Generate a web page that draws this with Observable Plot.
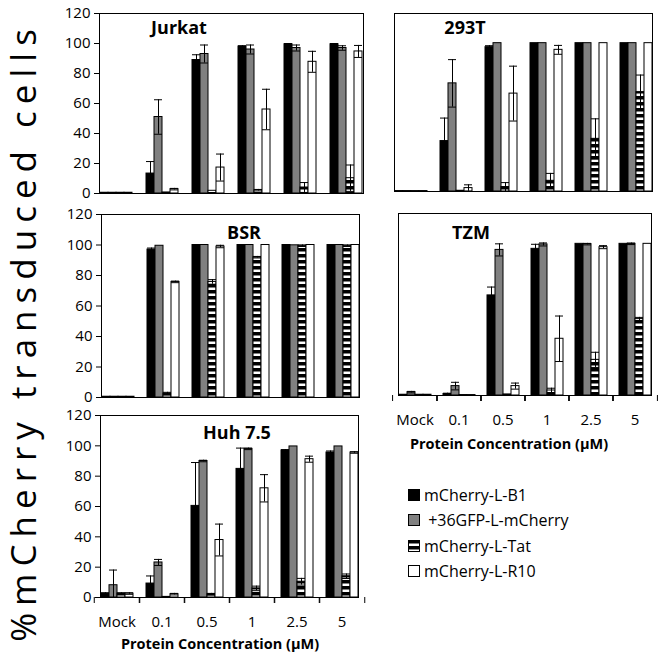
<!DOCTYPE html>
<html>
<head>
<meta charset="utf-8">
<script src="https://cdn.jsdelivr.net/npm/d3@7"></script>
<script src="https://cdn.jsdelivr.net/npm/@observablehq/plot@0.6"></script>
<style>
  body { margin: 0; background: #fff; font-family: "Open Sans", sans-serif; }
  #root { position: relative; width: 667px; height: 657px; overflow: hidden; background: #fff; }
  .panel { position: absolute; }
  .panel svg { overflow: visible; }
  .ptitle { position: absolute; font-weight: bold; font-size: 18px; transform: translate(-50%, -50%); white-space: nowrap; color: #000; }
  .xtitle { position: absolute; font-weight: bold; font-size: 14.5px; transform: translate(-50%, -50%); white-space: nowrap; color: #000; }
  .ytitle { position: absolute; font-size: 35px; letter-spacing: 7px; white-space: nowrap; transform: translate(-50%, -50%) rotate(-90deg); color: #000; }
  .legend { position: absolute; left: 408px; top: 482px; font-size: 16px; color: #000; }
  .legend .row { display: flex; align-items: center; height: 25.5px; white-space: pre; }
</style>
</head>
<body>
<svg width="0" height="0" style="position:absolute">
  <defs>
    <pattern id="tatStripes" patternUnits="userSpaceOnUse" width="6" height="6">
      <rect width="6" height="6" fill="#fff"></rect>
      <rect width="6" height="3.5" fill="#000"></rect>
    </pattern>
  </defs>
</svg>
<div id="root"></div>
<script>
// ---- categories & labels ----
const concentrations = ["Mock", "0.1", "0.5", "1", "2.5", "5"];
const series = ["mCherry-L-B1", "+36GFP-L-mCherry", "mCherry-L-Tat", "mCherry-L-R10"];
const seriesFills = ["#000000", "#808080", "url(#tatStripes)", "#ffffff"];
const yTicks = [0, 20, 40, 60, 80, 100, 120];
const xTitle = "Protein Concentration (μM)";
const yTitle = "%mCherry transduced cells";

// ---- values: rows = series (B1, +36GFP, Tat, R10), columns = concentrations ----
const jurkatValues = [
  [0.5, 13.3, 89, 98, 99.5, 99.5],
  [0.5, 51, 93, 96, 97, 97],
  [0.5, 0.7, 1.8, 2.2, 4, 10.2],
  [0.5, 2.9, 17.3, 56, 87.8, 94.7]
];
const jurkatErrors = [
  [0, 8, 3.5, 0.5, 0.5, 0.5],
  [0, 11.5, 6, 3, 2, 1.5],
  [0, 0, 0, 0.5, 3.3, 8.8],
  [0, 0.5, 9, 13.5, 7, 4]
];
const t293Values = [
  [0.3, 34, 97.3, 100, 100, 100],
  [0.3, 72.9, 100, 100, 100, 100],
  [0.3, 0.5, 3, 7.2, 35.5, 67],
  [0.3, 2.3, 66, 95.5, 100, 100]
];
const t293Errors = [
  [0, 15.5, 1, 0, 0, 0],
  [0, 16, 0, 0, 0, 0],
  [0, 0, 3, 5, 13.5, 11.5],
  [0, 2.2, 18.5, 3, 0, 0]
];
const bsrValues = [
  [0.5, 97, 100, 100, 100, 100],
  [0.5, 99.5, 100, 100, 99.8, 100],
  [0.5, 2.6, 75.8, 92, 99.5, 99.5],
  [0.5, 75.8, 99, 100, 100, 100]
];
const bsrErrors = [
  [0, 1, 0, 0, 0, 0],
  [0, 0, 0, 0, 0, 0],
  [0, 0.8, 1.5, 0.5, 0.5, 0.5],
  [0, 0.5, 0.8, 0, 0, 0]
];
const tzmValues = [
  [0.5, 1, 66, 96.7, 100, 100],
  [2.2, 6.2, 96, 99.6, 99.8, 100],
  [0.5, 0.3, 0.7, 3.3, 23.5, 50.5],
  [0.5, 0.3, 6.2, 37.4, 97.8, 100]
];
const tzmErrors = [
  [0, 0.5, 5.5, 3, 0, 0],
  [0.5, 2.5, 4, 1, 0.5, 0.5],
  [0, 0, 0, 1.5, 5, 1],
  [0, 0, 2, 15, 1, 0]
];
const huhValues = [
  [2.6, 9.2, 60.4, 84.8, 97, 95.6],
  [8.1, 23.1, 90, 98, 99.6, 99.6],
  [2.6, 0.4, 2.2, 6, 10.4, 14],
  [2.6, 2.2, 37.9, 72, 91.2, 95.6]
];
const huhErrors = [
  [0.5, 5, 28.6, 13.7, 0.5, 1],
  [10, 2, 0.5, 0.5, 0, 0],
  [0.5, 0, 0.5, 1.5, 2.2, 1.5],
  [0.5, 0.5, 10.5, 9, 2, 0.5]
];

// ---- build ----
const root = document.getElementById("root");

function tidy(values, errors) {
  const rows = [];
  series.forEach((s, i) => concentrations.forEach((c, j) => {
    rows.push({series: s, conc: c, value: values[i][j], err: errors[i][j]});
  }));
  return rows;
}

function addPanel(cfg) {
  const data = tidy(cfg.values, cfg.errors);
  const withErr = data.filter(d => d.err > 0);
  const plotW = cfg.width - cfg.marginLeft - cfg.marginRight;
  const step = plotW / concentrations.length;
  const marks = [
    Plot.barY(data, {fx: "conc", x: "series", y: "value", fill: "series", stroke: "#000", strokeWidth: 1}),
    Plot.ruleX(withErr, {fx: "conc", x: "series", y1: d => Math.max(0, d.value - d.err), y2: d => d.value + d.err, stroke: "#000", strokeWidth: 1}),
    Plot.tickY(withErr, {fx: "conc", x: "series", y: d => d.value + d.err, stroke: "#000", strokeWidth: 1}),
    Plot.tickY(withErr.filter(d => d.value - d.err > 0), {fx: "conc", x: "series", y: d => d.value - d.err, stroke: "#000", strokeWidth: 1}),
    Plot.frame({facet: "super", stroke: "#000", strokeWidth: 1})
  ];
  if (cfg.yAxis) {
    marks.push(Plot.axisY({ticks: yTicks, tickSize: 5, tickPadding: 4, fontSize: 15, label: null, stroke: "#000"}));
  }
  if (cfg.xAxis) {
    marks.push(Plot.axisFx({anchor: "bottom", tickSize: 0, tickPadding: 19, fontSize: 15, label: null}));
    marks.push(Plot.axisFx({anchor: "bottom", tickSize: 6, tickFormat: () => "", label: null, dx: -step / 2}));
    marks.push(Plot.axisFx({anchor: "bottom", tickSize: 6, tickFormat: () => "", label: null, dx: step / 2}));
  }
  const chart = Plot.plot({
    width: cfg.width,
    height: cfg.height,
    marginLeft: cfg.marginLeft,
    marginRight: cfg.marginRight,
    marginTop: cfg.marginTop,
    marginBottom: cfg.marginBottom,
    style: {fontFamily: "Open Sans", color: "#000", background: "transparent", overflow: "visible"},
    fx: {domain: concentrations, paddingInner: 0.26, paddingOuter: 0.13, axis: cfg.xAxis ? undefined : null, label: null},
    x: {domain: series, padding: 0, axis: null},
    y: {domain: [0, 120], axis: cfg.yAxis ? undefined : null, label: null},
    color: {domain: series, range: seriesFills},
    marks
  });
  const holder = document.createElement("div");
  holder.className = "panel";
  holder.style.left = cfg.left + "px";
  holder.style.top = cfg.top + "px";
  holder.appendChild(chart);
  root.appendChild(holder);

  const t = document.createElement("div");
  t.className = "ptitle";
  t.textContent = cfg.title;
  t.style.left = cfg.titleX + "px";
  t.style.top = cfg.titleY + "px";
  root.appendChild(t);

  if (cfg.xAxis) {
    const xt = document.createElement("div");
    xt.className = "xtitle";
    xt.textContent = xTitle;
    xt.style.left = cfg.xTitleX + "px";
    xt.style.top = cfg.xTitleY + "px";
    root.appendChild(xt);
  }
}

addPanel({title: "Jurkat", values: jurkatValues, errors: jurkatErrors, left: 40, top: 0, width: 335, height: 198,
  marginLeft: 53, marginRight: 5, marginTop: 13, marginBottom: 5, yAxis: true, xAxis: false, titleX: 179, titleY: 27});
addPanel({title: "293T", values: t293Values, errors: t293Errors, left: 380, top: 0, width: 284, height: 196,
  marginLeft: 7, marginRight: 5, marginTop: 13, marginBottom: 5, yAxis: false, xAxis: false, titleX: 465, titleY: 27});
addPanel({title: "BSR", values: bsrValues, errors: bsrErrors, left: 40, top: 200, width: 333, height: 202,
  marginLeft: 53, marginRight: 5, marginTop: 14, marginBottom: 5, yAxis: true, xAxis: false, titleX: 244, titleY: 232});
addPanel({title: "TZM", values: tzmValues, errors: tzmErrors, left: 380, top: 200, width: 284, height: 230,
  marginLeft: 10, marginRight: 5, marginTop: 13, marginBottom: 35, yAxis: false, xAxis: true, titleX: 471, titleY: 232,
  xTitleX: 509, xTitleY: 443});
addPanel({title: "Huh 7.5", values: huhValues, errors: huhErrors, left: 40, top: 400, width: 331, height: 232,
  marginLeft: 53, marginRight: 5, marginTop: 15, marginBottom: 35, yAxis: true, xAxis: true, titleX: 237, titleY: 432,
  xTitleX: 220, xTitleY: 643});

// y title
const yt = document.createElement("div");
yt.className = "ytitle";
yt.textContent = yTitle;
yt.style.left = "22px";
yt.style.top = "332px";
root.appendChild(yt);

// legend
const legend = document.createElement("div");
legend.className = "legend";
series.forEach((s, i) => {
  const row = document.createElement("div");
  row.className = "row";
  const sw = document.createElementNS("http://www.w3.org/2000/svg", "svg");
  sw.setAttribute("width", 12); sw.setAttribute("height", 12);
  sw.style.marginRight = "4px";
  const r = document.createElementNS("http://www.w3.org/2000/svg", "rect");
  r.setAttribute("x", 0.5); r.setAttribute("y", 0.5); r.setAttribute("width", 11); r.setAttribute("height", 11);
  r.setAttribute("fill", seriesFills[i]); r.setAttribute("stroke", "#000");
  sw.appendChild(r);
  row.appendChild(sw);
  const label = document.createElement("span");
  label.textContent = (i === 1 ? " " : "") + s;
  row.appendChild(label);
  legend.appendChild(row);
});
root.appendChild(legend);
</script>
</body>
</html>
